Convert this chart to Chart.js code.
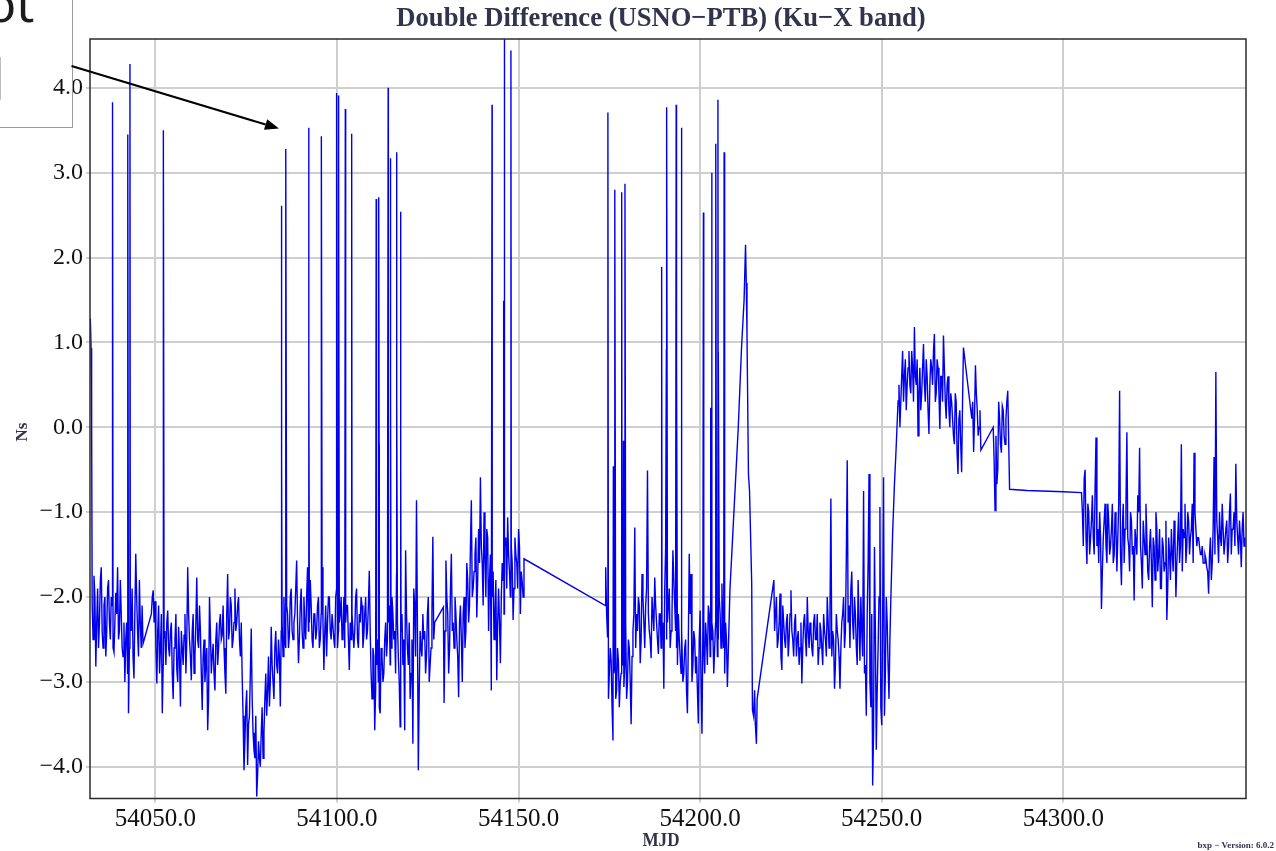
<!DOCTYPE html>
<html>
<head>
<meta charset="utf-8">
<title>Double Difference (USNO-PTB)</title>
<script src="https://cdn.jsdelivr.net/npm/chart.js@4.4.0/dist/chart.umd.min.js"></script>
<style>
  html, body { margin: 0; padding: 0; background: #fff; }
  #wrap { position: relative; width: 1276px; height: 851px; overflow: hidden; }
  #chart { position: absolute; left: 0; top: 0; }
  /* slide overlay: cut-off callout box */
  .callout { position: absolute; left: -20px; top: -20px; width: 91px; height: 146px; border: 1px solid #9a9a9a; }
  .callout-text { position: absolute; left: -14px; top: -22px; font: 50px/50px "Noto Sans", sans-serif; color: #1c1c1c; white-space: nowrap; }
  .callout-edge { position: absolute; left: 0; top: 57px; width: 1px; height: 43px; background: #bdbdbd; }
  #arrow { position: absolute; left: 0; top: 0; pointer-events: none; }
</style>
</head>
<body>
<div id="wrap">
  <canvas id="chart" width="1276" height="851"></canvas>
  <div class="callout"></div>
  <div class="callout-text">ot</div>
  <div class="callout-edge"></div>
  <svg id="arrow" width="1276" height="851">
    <line x1="71.5" y1="66" x2="265.6" y2="124.5" stroke="#000" stroke-width="2"/>
    <polygon points="279,128.5 264,129.8 267.2,119.2" fill="#000"/>
  </svg>
</div>
<script>
/* ---- data ---- */
const xTicks = [54050, 54100, 54150, 54200, 54250, 54300];
const yTicks = [-4, -3, -2, -1, 0, 1, 2, 3, 4];
const STEP = 0.5; // sampling of the runs below, MJD

// start MJD of every continuous run, and of the interleaved epochs
const runStarts  = [54032.6, 54048.9, 54129.5, 54174.0, 54220.5, 54254.5, 54274.8, 54280.7, 54305.0];
const runStarts2 = [54032.85, 54049.15, 54129.75, 54174.25, 54220.75, 54254.75, 54275.05, 54280.95, 54305.25];

const runA1 = [-2.1, -1.75, -2.82, -1.9, -2.3, -1.65, -2.6, -2.0, -2.4, -1.8,
  -2.5, -2.1, -2.65, -1.95, -1.65, -2.4, -2.2, -2.7, -3.0, -2.3,
  -3.37, -2.2, -1.9, -2.96, -1.49, -2.4, -1.8, -2.6, -2.55];
const runA1b = [-2.5, -2.0, -2.3, -2.6, -1.8, -2.4, -2.1, -2.7, -1.9, -2.3,
  -2.0, -2.6, -2.3, -2.2, -2.5, -1.8, -2.6, -2.3, -2.5, -2.9,
  -2.6, -2.4, -2.7, -2.2, -2.0, -2.7, -2.3, -2.1];

const runA2 = [-2.2, -1.92, -2.05, -3.02, -2.1, -2.6, -3.37, -2.4, -2.8, -2.16,
  -2.7, -2.3, -3.2, -2.5, -2.85, -2.35, -3.29, -2.6, -2.45, -2.9,
  -1.65, -2.5, -2.98, -2.2, -2.7, -1.77, -2.6, -2.4, -3.33, -2.5,
  -2.8, -3.57, -2.0, -2.9, -2.55, -3.1, -2.3, -2.6, -2.2, -2.45,
  -2.6, -3.14, -1.73, -2.4, -2.1, -2.5, -1.9, -2.3, -2.0, -2.7,
  -2.94, -4.04, -3.3, -3.98, -3.4, -2.37, -3.6, -3.9, -4.35, -3.7,
  -4.0, -3.3, -3.6, -2.9, -3.1, -3.29, -2.35, -3.0, -2.6, -2.8,
  -2.5, -3.29, -2.3, -2.0, -2.6, -2.2, -2.45, -1.9, -2.5, -2.2,
  -1.57, -2.78, -2.1, -2.4, -2.0, -2.5, -1.65, -2.3, -2.1, -2.6,
  -2.2, -2.4, -2.0, -2.5, -1.65, -2.86, -2.1, -2.3, -2.0, -2.5,
  -2.2, -2.6, -1.9, -2.4, -2.2, -2.5, -2.0, -2.3, -2.1, -2.86,
  -2.5, -2.2, -2.4, -1.9, -2.6, -2.3, -2.1, -2.45, -2.0, -2.4,
  -1.69, -2.9, -2.6, -3.57, -2.8, -3.0, -3.37, -2.7, -2.9, -2.3,
  -2.5, -2.1, -2.6, -2.2, -2.4, -1.73, -2.7, -3.53, -2.2, -2.5,
  -1.45, -2.6, -2.3, -2.9, -3.73, -2.1, -0.86, -4.04, -2.4, -2.7,
  -2.5, -2.9, -2.2, -3.0, -2.6, -1.29, -2.3];
const runA2b = [-2.0, -2.3, -2.6, -2.4, -2.9, -2.2, -2.8, -2.5, -2.3, -2.6,
  -2.4, -2.9, -2.6, -2.2, -3.0, -2.7, -2.4, -2.8, -2.2, -2.5,
  -2.2, -2.7, -2.4, -2.9, -2.3, -2.5, -2.1, -2.9, -2.7, -3.0,
  -2.6, -3.2, -2.4, -2.7, -2.9, -2.5, -2.8, -2.3, -2.5, -2.1,
  -2.9, -2.2, -2.5, -2.0, -2.6, -2.3, -2.4, -2.1, -2.5, -2.3,
  -3.4, -3.7, -3.1, -3.5, -2.9, -3.2, -3.8, -3.4, -4.1, -3.9,
  -3.6, -3.9, -3.2, -3.4, -2.7, -3.0, -2.8, -3.2, -2.4, -2.9,
  -2.7, -2.4, -2.7, -2.5, -2.1, -2.6, -2.0, -2.4, -2.3, -1.9,
  -2.3, -2.5, -1.9, -2.6, -2.3, -2.0, -2.4, -1.8, -2.5, -2.2,
  -2.5, -2.1, -2.6, -2.2, -2.3, -2.4, -2.7, -2.0, -2.4, -2.2,
  -2.5, -2.0, -2.6, -2.3, -2.0, -2.4, -2.6, -2.1, -2.5, -2.3,
  -2.2, -2.6, -2.0, -2.5, -2.2, -2.0, -2.6, -2.2, -2.5, -2.1,
  -2.4, -3.2, -2.7, -3.1, -2.5, -3.3, -2.6, -3.0, -2.5, -2.7,
  -2.3, -2.8, -2.0, -2.5, -2.9, -2.3, -3.0, -2.4, -2.8, -3.57,
  -2.2, -2.8, -3.2, -2.5, -1.9, -2.7, -2.3, -3.1, -2.6, -2.2,
  -2.4, -2.7, -2.0, -2.8, -2.2, -2.5];

const runA3 = [-3.25, -1.57, -2.2, -2.6, -1.49, -2.3, -2.0, -2.5, -3.18, -2.1,
  -3.0, -2.0, -2.4, -1.8, -2.1, -0.86, -1.9, -1.5, -2.24, -1.2,
  -0.59, -1.6, -1.0, -2.0, -1.3, -1.8, -3.1, -1.7, -2.2, -2.98,
  -1.9, -2.78, -1.6, -2.2, -1.3, -1.06, -1.7, -1.4, -2.27, -1.3,
  -1.6, -1.2, -2.2, -1.82, -1.55];
const runA3b = [-2.4, -2.0, -2.9, -1.9, -2.4, -2.6, -2.2, -2.7, -2.3, -2.5,
  -2.2, -2.6, -1.6, -2.3, -1.4, -2.0, -1.7, -1.3, -1.8, -1.6,
  -1.4, -2.1, -1.5, -1.2, -2.4, -1.5, -2.0, -2.5, -1.8, -2.3,
  -2.3, -2.0, -1.8, -1.4, -1.9, -1.5, -2.0, -1.6, -1.9, -1.5,
  -1.9, -1.4, -1.7, -2.0];

const runB = [-1.65, -2.47, -2.9, -2.75, -3.69, -2.8, -3.1, -2.75, -3.0, -2.8,
  -3.06, -2.3, -3.0, -2.6, -3.5, -2.4, -1.18, -2.2, -2.0, -2.78,
  -1.73, -2.3, -2.1, -0.51, -2.4, -2.72, -2.0, -1.77, -2.3, -2.67,
  -2.2, -2.5, -3.08, -1.41, -2.3, -1.9, -2.4, -1.45, -2.1, -2.6,
  -2.2, -2.7, -2.4, -2.9, -2.5, -3.37, -1.49, -1.73, -2.8, -2.5,
  -2.7, -3.49, -2.16, -3.61, -2.6, -2.3, -2.8, -2.2, -2.5, -2.4,
  -2.6, -2.1, -2.5, -2.2, -1.84, -2.6, -2.3, -3.06];
const runBb = [-2.2, -3.2, -2.6, -3.3, -2.9, -3.2, -2.6, -3.3, -2.9, -2.5,
  -2.8, -3.2, -2.5, -3.0, -2.7, -2.2, -2.6, -2.4, -2.1, -2.5,
  -2.0, -2.6, -1.9, -2.2, -2.5, -2.0, -2.4, -2.1, -2.5, -2.2,
  -2.6, -2.3, -1.9, -2.5, -2.1, -2.6, -2.2, -1.8, -2.4, -2.8,
  -2.5, -2.9, -3.0, -2.6, -3.1, -2.5, -2.2, -3.0, -2.4, -2.9,
  -3.1, -2.5, -3.0, -2.4, -2.9, -2.5, -2.1, -2.7, -2.3, -2.9,
  -2.3, -2.7, -2.0, -2.6, -2.4, -2.9, -2.5];

const runC = [-2.4, -2.0, -2.5, -1.96, -2.86, -2.3, -2.6, -2.2, -2.5, -1.92,
  -2.5, -2.3, -2.7, -2.4, -2.6, -3.02, -2.3, -2.5, -2.0, -2.6,
  -2.4, -2.7, -2.2, -2.5, -2.8, -2.3, -2.6, -2.2, -2.5, -2.0,
  -2.6, -0.84, -2.4, -3.08, -2.2, -2.5, -3.08, -2.3, -2.0, -2.4,
  -0.39, -2.1, -1.9, -2.3, -2.0, -2.59, -1.8, -2.75, -2.4, -0.75,
  -2.8, -2.2, -0.55, -3.3, -4.22, -1.41, -3.8, -2.6, -0.94, -3.51,
  -0.59, -2.9, -2.3, -3.2, -2.04];
const runCb = [-2.2, -2.6, -2.3, -2.7, -2.1, -2.5, -2.3, -2.7, -2.2, -2.4,
  -2.7, -2.2, -2.5, -2.8, -2.3, -2.6, -2.2, -2.7, -2.4, -2.3,
  -2.6, -2.3, -2.5, -2.2, -2.6, -2.4, -2.8, -2.4, -2.7, -2.3,
  -2.2, -2.7, -2.5, -2.8, -2.4, -2.7, -2.6, -2.2, -2.6, -1.53,
  -2.3, -2.6, -1.7, -2.5, -2.2, -2.8, -2.3, -2.0, -2.7, -2.9,
  -3.4, -1.6, -3.0, -2.2, -3.6, -2.4, -3.1, -2.0, -3.3, -2.3,
  -3.4, -2.0, -2.8, -2.5];

const runD1 = [0.31, 0.0, 0.6, 0.3, 0.8, 0.5, 0.9, 0.4, 0.7, 1.18,
  0.5, -0.1, 0.7, 0.4, 0.98, 0.3, 0.6, -0.08, 0.8, 0.5,
  1.1, 0.4, 0.7, -0.02, 0.6, 1.08, 0.3, 0.5, 0.2, 0.4,
  0.1, -0.2, 0.3, -0.55, 0.2, -0.53, 0.94];
const runD1b = [0.5, 0.3, 0.9, 0.6, 0.2, 0.7, 0.5, 0.9, 0.3, 0.6,
  0.8, 0.4, 0.2, 0.7, 0.5, 0.8, 0.2, 0.5, 0.7, 0.9,
  0.3, 0.8, 0.4, 0.6, 0.3, 0.7, 0.1, 0.6, 0.0, 0.3,
  -0.1, 0.4, -0.3, 0.1, -0.2, 0.3];

const runD2  = [0.1, -0.29, 0.73, 0.2, 0.0, -0.27];
const runD2b = [0.3, 0.1, 0.4, -0.1, 0.2];

const runD3  = [0.0, -0.98, -0.67, 0.3, -0.2, 0.25, -0.1, 0.1, 0.43];
const runD3b = [-0.4, -0.1, -0.5, 0.1, -0.3, 0.2, -0.2, 0.3];

const runE = [-0.77, -1.4, -0.5, -1.61, -1.0, -1.3, -0.8, -1.5, -0.12, -1.2,
  -1.0, -2.14, -1.3, -0.9, -1.6, -1.1, -1.4, -0.9, -1.5, -1.2,
  -1.3, 0.43, -1.86, -0.9, -1.2, -0.06, -1.4, -1.0, -1.5, -2.04,
  -1.2, -0.8, -0.24, -1.6, -1.1, -1.5, -1.3, -1.8, -1.2, -2.12,
  -1.4, -1.0, -1.7, -1.2, -1.9, -1.4, -1.6, -2.27, -1.3, -1.8,
  -1.5, -1.1, -2.0, -1.3, -1.6, -0.2, -1.2, -0.9, -1.4, -1.1,
  -1.3, -0.9, -0.3, -1.2, -1.3, -1.4, -1.5, -1.6, -1.5, -1.65,
  -1.96, -1.3, -1.6, -0.35, 0.65, -1.3, -1.0, -1.4, -1.2, -1.5,
  -1.1, -1.4, -0.78, -1.2, -1.0, -0.43, -1.3, -1.1, -1.65, -1.0, -1.3];
const runEb = [-1.0, -0.6, -1.3, -0.9, -1.5, -1.1, -1.3, -0.7, -1.4, -1.6,
  -1.3, -1.7, -1.1, -1.4, -0.9, -1.5, -1.2, -1.6, -1.0, -1.7,
  -0.9, -1.5, -1.2, -1.6, -0.9, -1.3, -1.7, -1.1, -1.4, -1.2,
  -1.5, -1.0, -1.4, -1.9, -1.3, -0.9, -1.7, -1.4, -1.6, -1.3,
  -1.8, -1.2, -1.5, -1.9, -1.3, -1.7, -1.1, -1.9, -1.5, -1.2,
  -1.7, -1.3, -1.6, -1.0, -1.4, -1.7, -1.3, -1.6, -1.0, -1.5,
  -1.2, -1.6, -1.0, -1.4, -1.3, -1.5, -1.4, -1.6, -1.55, -1.7,
  -1.5, -1.8, -1.2, -1.5, -1.1, -1.6, -1.3, -0.9, -1.5, -1.2,
  -1.6, -1.0, -1.5, -1.2, -1.4, -1.1, -1.5, -1.3, -1.2, -1.4];

// outliers (one-epoch spikes)
const spikeMjd = [54038.2, 54042.4, 54043.0, 54052.2, 54084.7, 54084.8, 54085.9, 54092.2, 54092.3, 54095.7,
  54099.9, 54100.4, 54100.5, 54102.3, 54104.0, 54104.1, 54110.8, 54111.5, 54111.6, 54114.1,
  54114.7, 54114.8, 54116.4, 54116.5, 54117.5, 54117.6, 54142.7, 54145.9, 54146.0, 54147.9,
  54174.6, 54176.1, 54176.5, 54178.4, 54178.9, 54179.3, 54189.4, 54190.7, 54190.8, 54193.4,
  54193.5, 54194.8, 54200.9, 54202.9, 54203.2, 54204.3, 54204.9, 54205.0, 54206.6];
const spikeVal = [3.83, 3.45, 4.28, 3.50, 2.61, -0.35, 3.28, 3.53, 0.65, 3.43,
  3.94, 3.91, 3.22, 3.75, 0.62, 3.46, 2.69, 2.71, -0.2, 4.0,
  3.17, 0.41, 3.24, 0.34, 2.54, -0.41, 3.80, 1.49, 4.8, 4.44,
  3.71, -0.46, 2.80, 2.77, -0.16, 2.87, 1.89, 0.92, 3.77, 3.80,
  0.8, 3.53, 2.53, 0.23, 3.0, 3.34, 3.86, 0.89, 3.24];

// single epochs outside the runs: start, ramps and across the data gaps
const extraMjd = [54032.1, 54032.3, 54032.45, 54129.3, 54173.9,
  54208.2, 54209.3, 54210.5, 54211.4, 54212.1, 54212.5, 54212.7, 54212.9, 54213.3, 54213.6,
  54214.2, 54214.4, 54214.7, 54215.0, 54215.2, 54215.5, 54215.7, 54220.3,
  54253.0, 54253.5, 54253.9, 54254.2, 54285.2, 54290.0, 54300.0];
const extraVal = [1.28, 0.93, 0.05, -2.12, -2.10,
  -1.92, -1.0, 0.0, 0.94, 1.5, 2.15, 1.7, 1.1, -0.55, -0.75,
  -1.84, -3.33, -3.4, -3.1, -3.5, -3.73, -3.2, -1.8,
  -1.25, -0.67, -0.31, 0.0, -0.73, -0.745, -0.76];

/* ---- build the series ---- */
const runs  = [runA1, runA2, runA3, runB, runC, runD1, runD2, runD3, runE];
const runs2 = [runA1b, runA2b, runA3b, runBb, runCb, runD1b, runD2b, runD3b, runEb];
const points = [];
function addRuns(list, starts) {
  list.forEach(function (vals, r) {
    vals.forEach(function (v, i) {
      points.push({ x: +(starts[r] + i * STEP).toFixed(2), y: v });
    });
  });
}
addRuns(runs, runStarts);
addRuns(runs2, runStarts2);
spikeMjd.forEach(function (m, i) { points.push({ x: m, y: spikeVal[i] }); });
extraMjd.forEach(function (m, i) { points.push({ x: m, y: extraVal[i] }); });
points.sort(function (a, b) { return a.x - b.x; });

const fmt = function (v) { return (v < 0 ? '\u2212' : '') + Math.abs(v).toFixed(1); };
const ink = '#33334d';

// frame + slide texts
const decor = {
  id: 'decor',
  afterDraw(chart) {
    const { ctx, chartArea: a } = chart;
    ctx.save();
    ctx.strokeStyle = '#2b2b2b';
    ctx.lineWidth = 1.5;
    ctx.strokeRect(a.left, a.top, a.right - a.left, a.bottom - a.top);

    ctx.fillStyle = ink;
    ctx.textAlign = 'center';
    ctx.textBaseline = 'alphabetic';
    // title (condensed serif)
    ctx.save();
    ctx.translate(661, 26);
    ctx.scale(0.95, 1);
    ctx.font = 'bold 28px "Liberation Serif", serif';
    ctx.fillText('Double Difference (USNO\u2212PTB) (Ku\u2212X band)', 0, 0);
    ctx.restore();
    // x title
    ctx.save();
    ctx.translate(661, 846);
    ctx.scale(0.9, 1);
    ctx.font = 'bold 19px "Liberation Serif", serif';
    ctx.fillText('MJD', 0, 0);
    ctx.restore();
    // y title
    ctx.save();
    ctx.translate(27, 432);
    ctx.rotate(-Math.PI / 2);
    ctx.font = 'bold 17px "Liberation Serif", serif';
    ctx.fillText('Ns', 0, 0);
    ctx.restore();
    // version stamp
    ctx.textAlign = 'right';
    ctx.font = 'bold 9px "Liberation Serif", serif';
    ctx.fillText('bxp \u2212 Version: 6.0.2', 1274, 848);
    ctx.restore();
  }
};

new Chart(document.getElementById('chart'), {
  type: 'line',
  data: {
    datasets: [{
      data: points,
      borderColor: '#0000ee',
      borderWidth: 1.4,
      pointRadius: 0,
      tension: 0,
      clip: 0
    }]
  },
  options: {
    responsive: false,
    animation: false,
    devicePixelRatio: 1,
    layout: { padding: { top: 39, right: 30, left: 0, bottom: 0 } },
    plugins: { legend: { display: false }, tooltip: { enabled: false }, title: { display: false } },
    scales: {
      x: {
        type: 'linear',
        min: 54032.0,
        max: 54350.3,
        afterFit: function (s) { s.height = 52.5; },
        afterBuildTicks: function (s) { s.ticks = xTicks.map(function (v) { return { value: v }; }); },
        grid: { color: '#cfcfcf', lineWidth: 2, tickLength: 4, drawTicks: true },
        border: { display: false },
        ticks: {
          autoSkip: false, maxRotation: 0, padding: 2,
          color: '#111', font: { family: '"Liberation Serif", serif', size: 25 },
          callback: fmt
        }
      },
      y: {
        min: -4.374,
        max: 4.575,
        afterFit: function (s) { s.width = 90; },
        afterBuildTicks: function (s) { s.ticks = yTicks.map(function (v) { return { value: v }; }); },
        grid: { color: '#cfcfcf', lineWidth: 2, tickLength: 4, drawTicks: true },
        border: { display: false },
        ticks: {
          padding: 3,
          color: '#111', font: { family: '"Liberation Serif", serif', size: 24 },
          callback: fmt
        }
      }
    }
  },
  plugins: [decor]
});
</script>
</body>
</html>
